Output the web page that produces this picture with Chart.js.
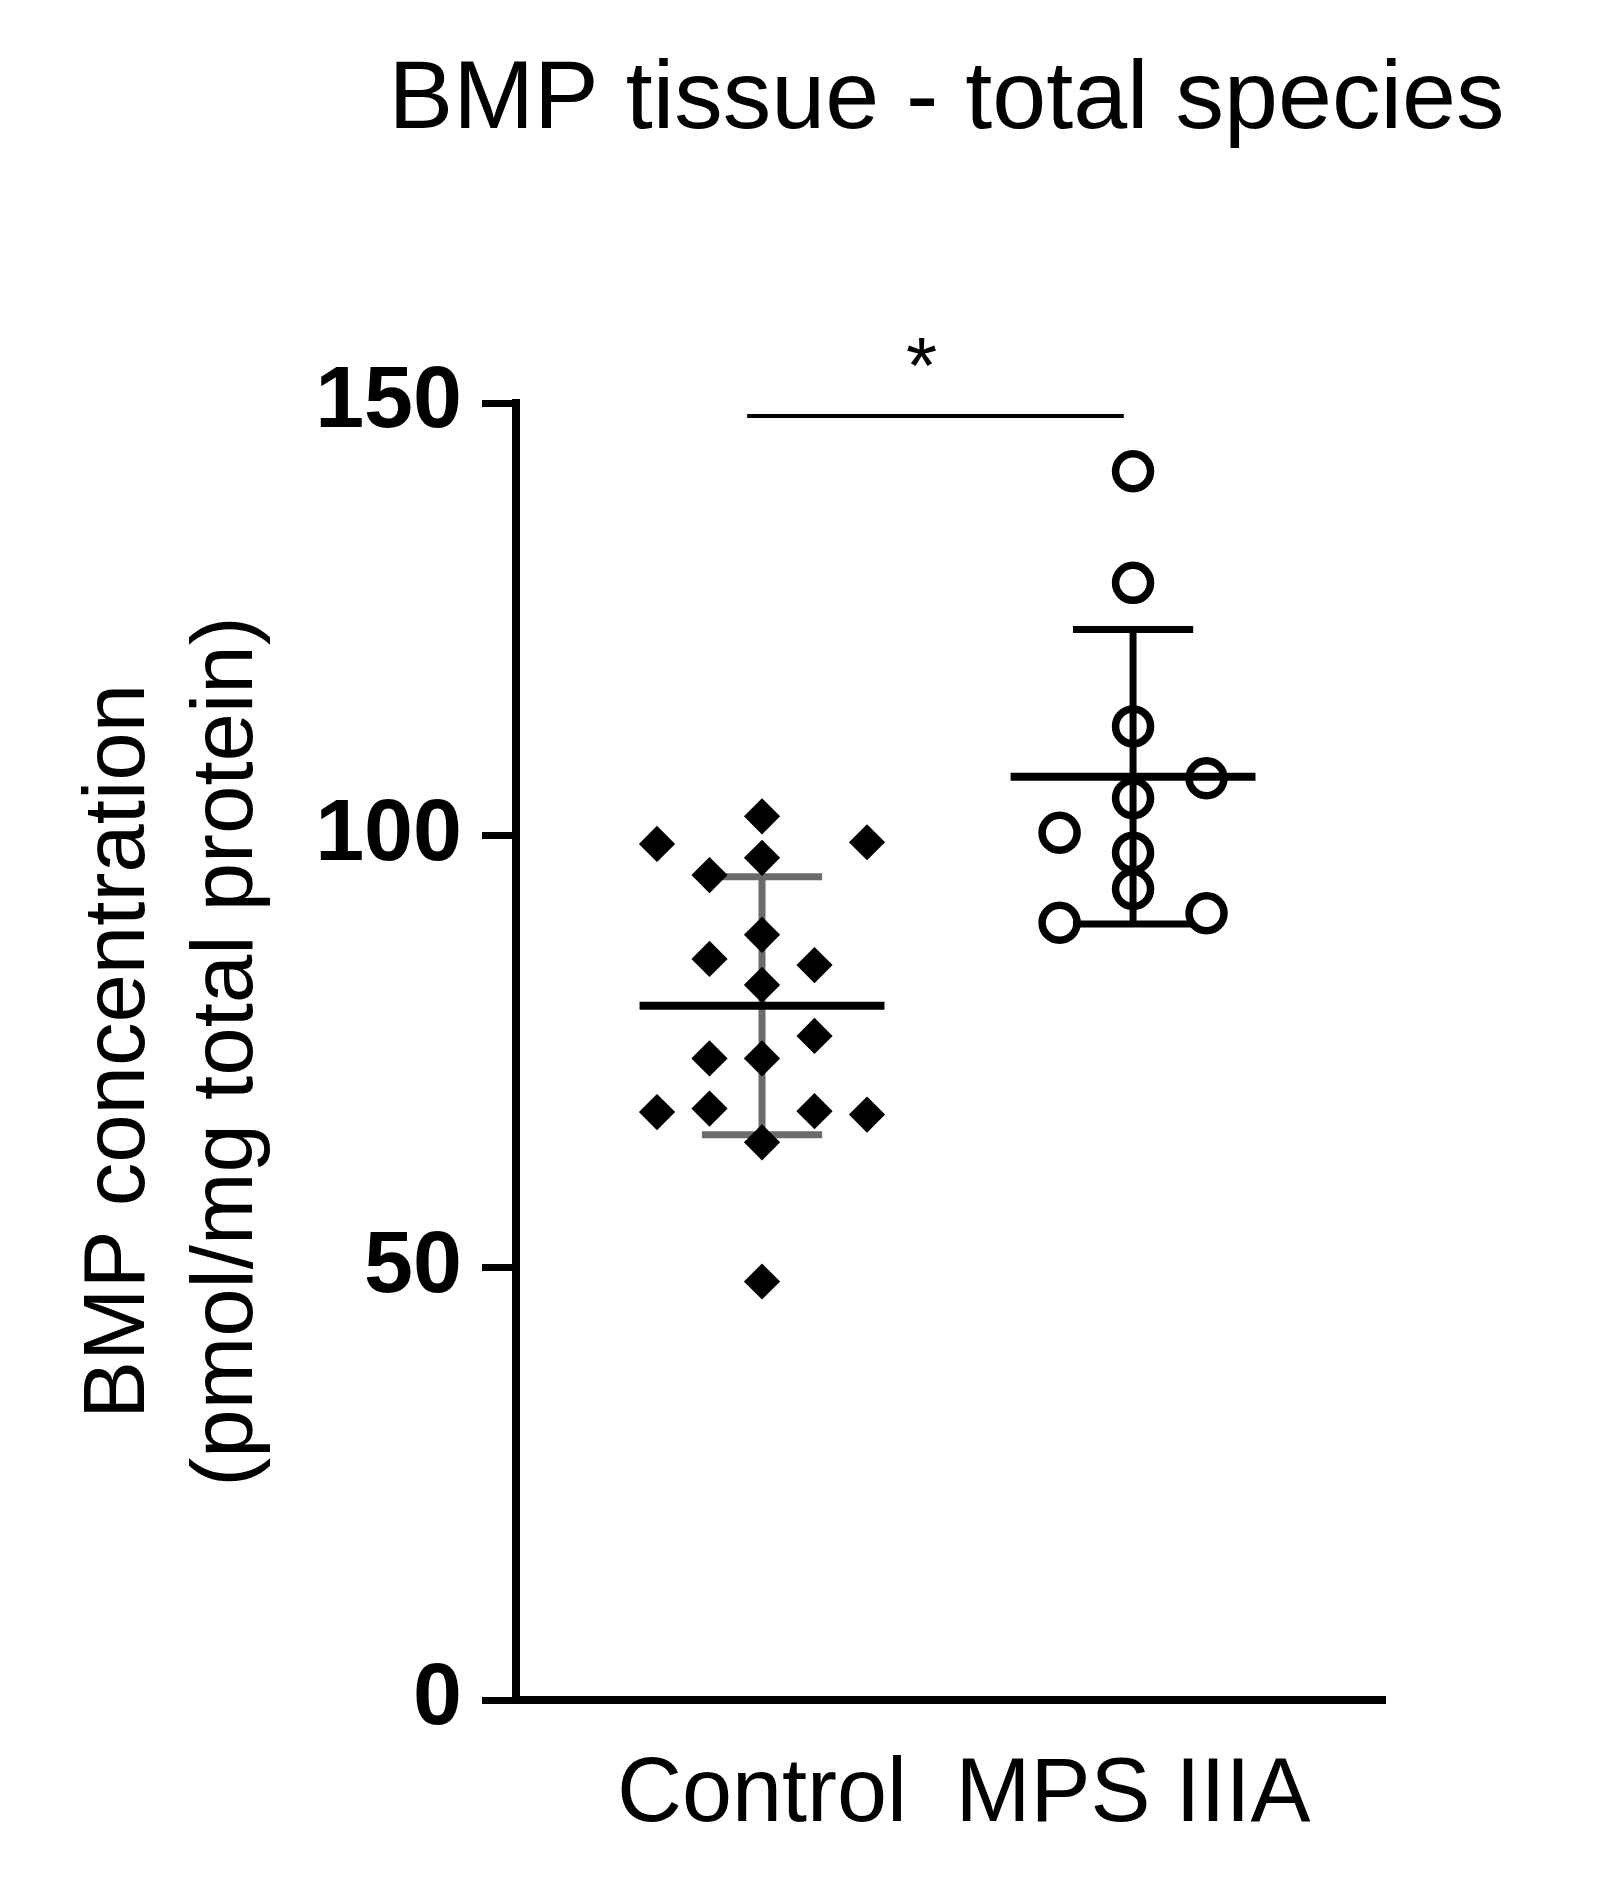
<!DOCTYPE html>
<html lang="en">
<head>
  <meta charset="UTF-8">
  <title>BMP tissue - total species</title>
  <script src="https://cdn.jsdelivr.net/npm/chart.js"></script>
  <style>
    html, body {
      margin: 0;
      padding: 0;
      background: #fff;
    }
    #chartContainer {
      width: 1600px;
      height: 1880px;
    }
  </style>
</head>
<body>

  <div id="chartContainer">
    <canvas id="bmpChart" width="1600" height="1880"></canvas>
  </div>

  <script>
    // Groups on the x axis
    const groups = ['Control', 'MPS IIIA'];

    // BMP concentration (pmol/mg total protein), one value per animal
    const controlValues = [102.2, 99.0, 99.2, 97.4, 95.4, 88.5, 85.7, 85.0, 82.7,
                           76.8, 74.2, 74.2, 68.0, 68.4, 68.1, 67.7, 64.5, 48.4];
    // column of each point in the scatter of its group (0 = centre)
    const controlColumns = [0, -2, 2, 0, -1, 0, -1, 1, 0,
                            1, -1, 0, -2, -1, 1, 2, 0, 0];

    const mpsValues = [142.1, 129.2, 112.6, 106.6, 104.3, 100.3, 98.0, 93.8, 89.9, 91.0];
    const mpsColumns = [0, 0, 0, 1, 0, -1, 0, 0, -1, 1];

    // y axis ticks
    const yTicks = [0, 50, 100, 150];

    // chart title and significance mark between the two groups
    const chartTitle = 'BMP tissue - total species';
    const sigLabel = '*';
    const sigLevel = 148.5;

    const FONT = "'Liberation Sans', Arial, Helvetica, sans-serif";
    Chart.defaults.font.family = FONT;
    Chart.defaults.color = '#000';

    // points of one group, spread around the group centre
    function toPoints(values, columns, group, step) {
      return values.map((v, i) => ({ x: group + columns[i] * step, y: v }));
    }

    // mean and sample standard deviation
    function meanSd(values) {
      const m = values.reduce((a, b) => a + b, 0) / values.length;
      const v = values.reduce((a, b) => a + (b - m) * (b - m), 0) / (values.length - 1);
      return { mean: m, sd: Math.sqrt(v) };
    }

    const series = [controlValues, mpsValues];
    const stats = series.map(meanSd);
    const sdColors = ['#6b6b6b', '#000000'];

    function hline(ctx, x1, x2, y) {
      ctx.beginPath();
      ctx.moveTo(x1, y);
      ctx.lineTo(x2, y);
      ctx.stroke();
    }

    // mean line, SD bars, significance bar and title
    const summaryPlugin = {
      id: 'summary',
      beforeDatasetsDraw(chart) {
        const { ctx, scales: { x, y } } = chart;
        ctx.save();
        ctx.lineWidth = 7;
        ctx.lineCap = 'butt';
        stats.forEach((s, i) => {
          const g = i + 1;
          const cx = x.getPixelForValue(g);
          const top = y.getPixelForValue(s.mean + s.sd);
          const bot = y.getPixelForValue(s.mean - s.sd);
          ctx.strokeStyle = sdColors[i];
          ctx.beginPath();
          ctx.moveTo(cx, top);
          ctx.lineTo(cx, bot);
          ctx.stroke();
          const l = x.getPixelForValue(g - 0.162);
          const r = x.getPixelForValue(g + 0.162);
          hline(ctx, l, r, top);
          hline(ctx, l, r, bot);
        });
        ctx.restore();
      },
      afterDatasetsDraw(chart) {
        const { ctx, chartArea, scales: { x, y } } = chart;
        ctx.save();
        ctx.strokeStyle = '#000';
        ctx.lineWidth = 8;
        stats.forEach((s, i) => {
          const g = i + 1;
          hline(ctx, x.getPixelForValue(g - 0.33), x.getPixelForValue(g + 0.33), y.getPixelForValue(s.mean));
        });

        // significance bar
        const sy = y.getPixelForValue(sigLevel);
        ctx.lineWidth = 4;
        hline(ctx, x.getPixelForValue(0.96), x.getPixelForValue(1.975), sy);
        ctx.fillStyle = '#000';
        ctx.font = '80px ' + FONT;
        ctx.textAlign = 'center';
        ctx.textBaseline = 'alphabetic';
        ctx.fillText(sigLabel, x.getPixelForValue(1.43), sy - 23);

        // title, centred over the plot, not squeezed
        ctx.font = '97px ' + FONT;
        ctx.fillText(chartTitle, (chartArea.left + chartArea.right) / 2 - 4, 128);
        ctx.restore();
      }
    };

    const ctx = document.getElementById('bmpChart').getContext('2d');
    const bmpChart = new Chart(ctx, {
      type: 'scatter',
      data: {
        datasets: [
          {
            label: groups[0],
            data: toPoints(controlValues, controlColumns, 1, 0.1415),
            pointStyle: 'rectRot',
            pointRadius: 16,
            pointBorderWidth: 3,
            pointBackgroundColor: '#000',
            pointBorderColor: '#000'
          },
          {
            label: groups[1],
            data: toPoints(mpsValues, mpsColumns, 2, 0.198),
            pointStyle: 'circle',
            pointRadius: 17.5,
            pointBorderWidth: 7.5,
            pointBackgroundColor: 'rgba(0,0,0,0)',
            pointBorderColor: '#000'
          }
        ]
      },
      options: {
        responsive: false,
        animation: false,
        events: [],
        layout: {
          padding: { top: 403, left: 0, right: 215, bottom: 0 }
        },
        plugins: {
          legend: { display: false },
          tooltip: { enabled: false },
          title: { display: false }
        },
        scales: {
          x: {
            type: 'linear',
            min: 0.337,
            max: 2.679,
            afterBuildTicks: (scale) => {
              scale.ticks = groups.map((g, i) => ({ value: i + 1 }));
            },
            afterFit: (scale) => { scale.height = 180; },
            ticks: {
              autoSkip: false,
              maxRotation: 0,
              padding: 42,
              color: '#000',
              font: { size: 90 },
              callback: (value) => groups[value - 1]
            },
            grid: { display: true, drawOnChartArea: false, drawTicks: false },
            border: { display: true, color: '#000', width: 8 }
          },
          y: {
            type: 'linear',
            min: 0,
            max: 150,
            afterBuildTicks: (scale) => {
              scale.ticks = yTicks.map(v => ({ value: v }));
            },
            afterFit: (scale) => { scale.width = 516; },
            ticks: {
              padding: 20,
              color: '#000',
              font: { size: 88, weight: 'bold' }
            },
            grid: {
              display: true,
              drawOnChartArea: false,
              drawTicks: true,
              tickLength: 34,
              tickWidth: 7,
              tickColor: '#000'
            },
            border: { display: true, color: '#000', width: 8 },
            title: {
              display: true,
              text: ['BMP concentration', '(pmol/mg total protein)'],
              color: '#000',
              font: { size: 87, lineHeight: 1.24 },
              padding: { top: 66, bottom: 0 }
            }
          }
        }
      },
      plugins: [summaryPlugin]
    });
  </script>

</body>
</html>
